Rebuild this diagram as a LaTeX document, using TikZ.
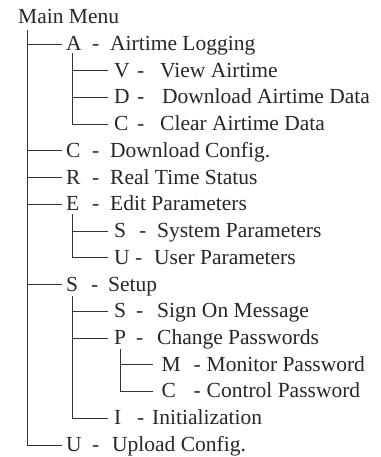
\documentclass[tikz,border=0pt]{standalone}
\usepackage{fontspec}
\setmainfont{Liberation Serif}
\newcommand\itm[4]{\makebox[#1bp][l]{#2}\makebox[#3bp][l]{-}#4}
\begin{document}
\begin{tikzpicture}[x=1bp,y=-1bp,
  item/.style={anchor=west, inner ysep=0pt, text height=18.3bp, text depth=5.4bp,
    font=\fontsize{21.5bp}{26bp}\selectfont, text=black!85},
  lvlA/.style={item, inner xsep=4bp},
  lvlB/.style={item, inner xsep=6bp},
  lvlC/.style={item, inner xsep=8.5bp},
  conn/.style={draw=black!80, line width=0.9bp}]
\useasboundingbox (0,0) rectangle (380,457);
% root
\node[item, inner xsep=0pt] (mm) at (18,17.3) {Main Menu};
% level 1
\node[lvlA] (a)  at (62,44.0)  {\itm{26}{A}{18}{Airtime Logging}};
\node[lvlA] (c1) at (62,150.9) {\itm{26}{C}{18}{Download Config.}};
\node[lvlA] (r)  at (62,177.7) {\itm{26}{R}{18}{Real Time Status}};
\node[lvlA] (e)  at (62,204.4) {\itm{26}{E}{18}{Edit Parameters}};
\node[lvlA] (s)  at (62,284.6) {\itm{25}{S}{17}{Setup}};
\node[lvlA] (u)  at (62,444.95) {\itm{26}{U}{20}{Upload Config.}};
% level 2
\node[lvlB] (av) at (108,70.7)  {\itm{23}{V}{23}{View Airtime}};
\node[lvlB] (ad) at (108,97.5)  {\itm{23}{D}{25}{Download Airtime Data}};
\node[lvlB] (ac) at (108,124.2) {\itm{23}{C}{23}{Clear Airtime Data}};
\node[lvlB] (es) at (108,231.1) {\itm{25}{S}{18}{System Parameters}};
\node[lvlB] (eu) at (108,257.8) {\itm{21}{U}{19}{User Parameters}};
\node[lvlB] (ss) at (108,311.3) {\itm{22}{S}{21}{Sign On Message}};
\node[lvlB] (sp) at (108,338.0) {\itm{22}{P}{21}{Change Passwords}};
\node[lvlB] (si) at (108,418.2) {\itm{23}{I}{15}{Initialization}};
% level 3
\node[lvlC] (pm) at (153,364.8) {\itm{32}{M}{13}{Monitor Password}};
\node[lvlC] (pc) at (153,391.5) {\itm{32}{C}{13}{Control Password}};
% trunks
\coordinate (t0) at (27,30);
\coordinate (ta) at (72.7,53);
\coordinate (te) at (72.7,214);
\coordinate (ts) at (72.7,296);
\coordinate (tp) at (120.7,349);
% main trunk
\draw[conn] (t0) |- (u.west);
\foreach \n in {a,c1,r,e,s} \draw[conn] (t0 |- \n.west) -- (\n.west);
% A subtree
\draw[conn] (ta) |- (ac.west);
\foreach \n in {av,ad} \draw[conn] (ta |- \n.west) -- (\n.west);
% E subtree
\draw[conn] (te) |- (eu.west);
\draw[conn] (te |- es.west) -- (es.west);
% S subtree
\draw[conn] (ts) |- (si.west);
\foreach \n in {ss,sp} \draw[conn] (ts |- \n.west) -- (\n.west);
% P subtree
\draw[conn] (tp) |- (pc.west);
\draw[conn] (tp |- pm.west) -- (pm.west);
\end{tikzpicture}
\end{document}
